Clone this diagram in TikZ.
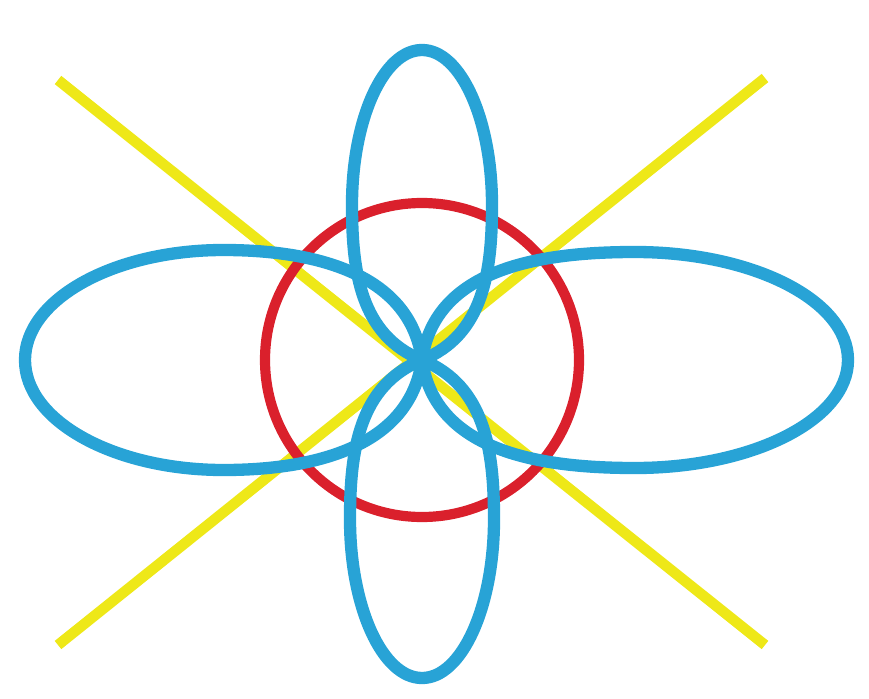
\documentclass[tikz,border=0pt]{standalone}
\usetikzlibrary{positioning}

\definecolor{rayyellow}{RGB}{238,232,24}
\definecolor{ringred}{RGB}{218,32,44}
\definecolor{petalblue}{RGB}{40,163,214}

\begin{document}
\begin{tikzpicture}[
  ray/.style   = {rayyellow, line width=3pt, line cap=butt},
  ring/.style  = {ringred, line width=2.9pt},
  petal/.style = {petalblue, line width=3.5pt, line join=round},
]
  \useasboundingbox (0,0) rectangle (8.69,6.98);

  \coordinate (O) at (4.22,3.38);

  % the two yellow diagonals, under everything
  \coordinate (ray_nw) at (0.58,6.18);
  \coordinate (ray_se) at (7.65,0.53);
  \coordinate (ray_ne) at (7.65,6.20);
  \coordinate (ray_sw) at (0.58,0.53);
  \draw[ray] (ray_nw) -- (ray_se);
  \draw[ray] (ray_ne) -- (ray_sw);

  % red ring round the centre
  \draw[ring] (O) circle (1.57);

  % where each petal is widest
  \coordinate (l_top) at (2.235,4.48);
  \coordinate (r_top) at (6.35,4.46);
  \coordinate (t_lft) at (3.52,4.93);
  \coordinate (b_lft) at (3.50,1.79);

  % four blue petals: half an ellipse outside, drawn in to the centre
  \draw[petal] (O) to[out=98,in=0] (l_top)
    arc[start angle=90, end angle=270, x radius=1.985, y radius=1.10]
    to[out=0,in=-98] (O);
  \draw[petal] (O) to[out=82,in=180] (r_top)
    arc[start angle=90, end angle=-90, x radius=2.13, y radius=1.08]
    to[out=180,in=-82] (O);
  \draw[petal] (O) to[out=158,in=-90] (t_lft)
    arc[start angle=180, end angle=0, x radius=0.70, y radius=1.55]
    to[out=-90,in=22] (O);
  \draw[petal] (O) to[out=-158,in=90] (b_lft)
    arc[start angle=180, end angle=360, x radius=0.72, y radius=1.59]
    to[out=90,in=-22] (O);
\end{tikzpicture}
\end{document}
